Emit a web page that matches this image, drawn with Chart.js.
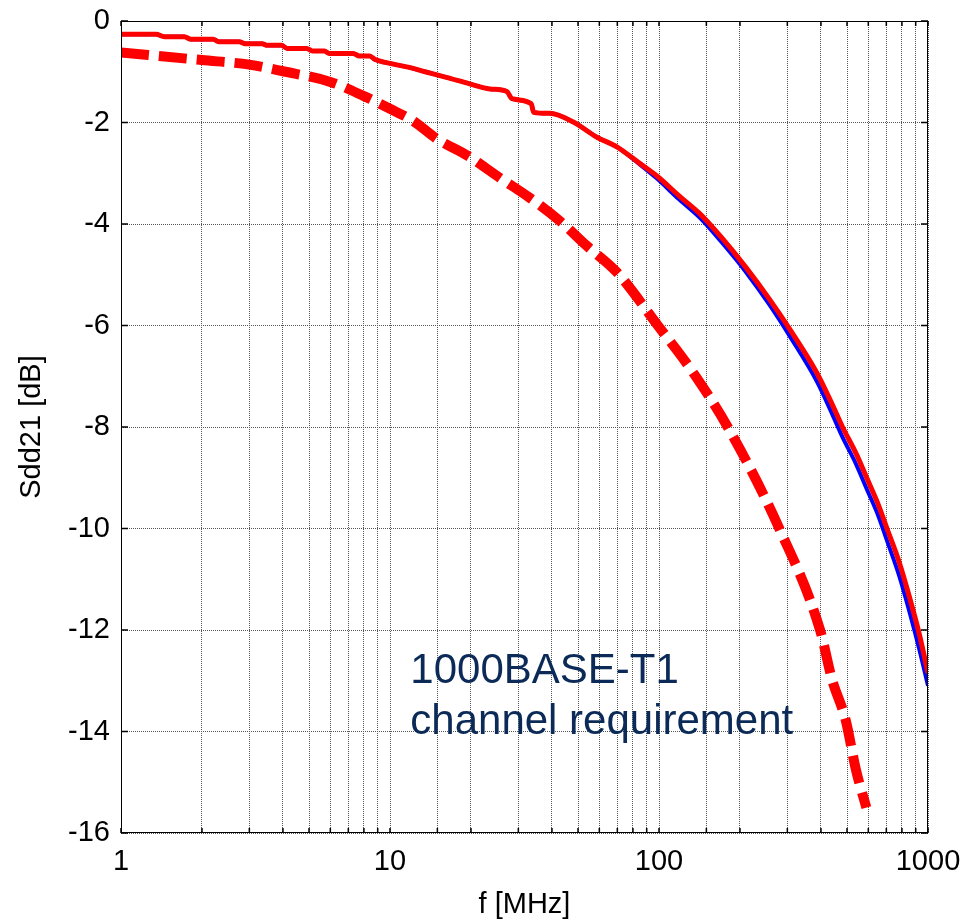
<!DOCTYPE html>
<html>
<head>
<meta charset="utf-8">
<title>Sdd21</title>
<script src="https://cdn.jsdelivr.net/npm/chart.js@4.4.0/dist/chart.umd.min.js"></script>
<style>
  html, body { margin: 0; padding: 0; background: #fff; }
  canvas { display: block; }
</style>
</head>
<body>
<canvas id="sddChart" width="963" height="920"></canvas>
<script>
// measured channel, frequency in MHz
const freqMeas = [1, 1.35, 1.45, 1.72, 1.82, 2.2, 2.32, 2.75, 2.9, 3.35,
  3.5, 3.95, 4.15, 4.9, 5.15, 5.7, 5.95, 7.3, 7.7, 8.4,
  8.8, 9.7, 11.9, 13.5, 16.2, 19.8, 23.5, 27.2, 28.4, 33.5,
  34.2, 39.2, 48, 58.8, 69.7, 85, 98, 119, 142, 171,
  210, 258, 307, 386, 440, 481, 540, 594, 650, 704,
  780, 855, 930, 1000];
const sddRed = [-0.26, -0.26, -0.31, -0.31, -0.36, -0.36, -0.41, -0.41, -0.45, -0.45,
  -0.48, -0.48, -0.54, -0.54, -0.59, -0.59, -0.64, -0.64, -0.69, -0.69,
  -0.76, -0.82, -0.92, -1.00, -1.11, -1.24, -1.34, -1.39, -1.53, -1.63,
  -1.80, -1.82, -1.99, -2.29, -2.48, -2.81, -3.05, -3.45, -3.80, -4.27,
  -4.85, -5.49, -6.08, -6.93, -7.55, -8.00, -8.52, -9.02, -9.50, -10.0,
  -10.65, -11.37, -12.10, -12.85];
const sddBlue = [-0.26, -0.26, -0.31, -0.31, -0.36, -0.36, -0.41, -0.41, -0.45, -0.45,
  -0.48, -0.48, -0.54, -0.54, -0.59, -0.59, -0.64, -0.64, -0.69, -0.69,
  -0.76, -0.82, -0.92, -1.00, -1.11, -1.24, -1.34, -1.39, -1.53, -1.63,
  -1.80, -1.82, -1.99, -2.29, -2.48, -2.83, -3.10, -3.52, -3.88, -4.36,
  -4.94, -5.60, -6.22, -7.10, -7.74, -8.20, -8.73, -9.24, -9.72, -10.24,
  -10.92, -11.66, -12.40, -13.10];

// 1000BASE-T1 channel limit
const freqLimit = [1, 2, 3, 4, 6, 8, 10, 12.2, 14.9, 19.5,
  25.6, 33, 42.8, 53.9, 69.7, 99, 130, 180, 280, 397,
  440, 494, 540, 590];
const limitDb = [-0.62, -0.77, -0.86, -0.99, -1.20, -1.48, -1.73, -1.97, -2.32, -2.66,
  -3.09, -3.48, -3.94, -4.43, -4.95, -6.00, -6.83, -8.00, -10.0, -12.0,
  -12.98, -13.77, -14.76, -15.5];

const xDecades = [1, 10, 100, 1000];
const noteLines = ['1000BASE-T1', 'channel requirement'];

const FONT = '"Liberation Sans", Arial, Helvetica, sans-serif';

function toPoints(xs, ys) {
  return xs.map((f, i) => ({ x: f, y: ys[i] }));
}

// box around the axes, inward tick marks, text note
const framePlugin = {
  id: 'frame',
  afterDraw(chart) {
    const { ctx, chartArea: a, scales: { x, y } } = chart;
    ctx.save();
    ctx.strokeStyle = '#000';
    ctx.lineWidth = 1;
    ctx.strokeRect(a.left + 0.5, a.top + 0.5, a.right - a.left - 1, a.bottom - a.top - 1);

    ctx.lineWidth = 1.5;
    ctx.beginPath();
    x.ticks.forEach(t => {
      const px = x.getPixelForValue(t.value);
      ctx.moveTo(px, a.bottom); ctx.lineTo(px, a.bottom - 5);
      ctx.moveTo(px, a.top); ctx.lineTo(px, a.top + 5);
    });
    y.ticks.forEach(t => {
      const py = y.getPixelForValue(t.value);
      ctx.moveTo(a.left, py); ctx.lineTo(a.left + 7, py);
      ctx.moveTo(a.right, py); ctx.lineTo(a.right - 7, py);
    });
    ctx.stroke();

    ctx.fillStyle = '#0b2a57';
    ctx.font = '42px ' + FONT;
    ctx.textAlign = 'left';
    ctx.textBaseline = 'alphabetic';
    const nx = x.getPixelForValue(11.9);
    noteLines.forEach((line, i) => {
      ctx.fillText(line, nx, y.getPixelForValue(-13.05 - i * 1.0));
    });
    ctx.restore();
  }
};

const ctx = document.getElementById('sddChart').getContext('2d');
const chart = new Chart(ctx, {
  type: 'line',
  data: {
    datasets: [
      {
        label: '1000BASE-T1 channel requirement',
        data: toPoints(freqLimit, limitDb),
        borderColor: '#ff0000',
        borderWidth: 10,
        borderDash: [28, 10],
        borderCapStyle: 'butt',
        cubicInterpolationMode: 'monotone',
        pointRadius: 0,
        fill: false,
      },
      {
        label: 'Sdd21 red',
        data: toPoints(freqMeas, sddRed),
        borderColor: '#ff0000',
        borderWidth: 5,
        pointRadius: 0,
        cubicInterpolationMode: 'monotone',
        fill: false,
      },
      {
        label: 'Sdd21 blue',
        data: toPoints(freqMeas, sddBlue),
        borderColor: '#0000ff',
        borderWidth: 4,
        pointRadius: 0,
        cubicInterpolationMode: 'monotone',
        fill: false,
      },
    ],
  },
  options: {
    responsive: false,
    animation: false,
    devicePixelRatio: 1,
    layout: { padding: { left: 0, right: 35, top: 21, bottom: 0 } },
    plugins: {
      legend: { display: false },
      tooltip: { enabled: false },
    },
    scales: {
      x: {
        type: 'logarithmic',
        min: 1,
        max: 1000,
        afterFit: (scale) => {
          scale.height = 87;
          scale.paddingLeft = 0;
          scale.paddingRight = 0;
        },
        grid: { color: '#555', lineWidth: 1, drawTicks: false },
        border: { display: false, dash: [1, 1] },
        ticks: {
          autoSkip: false,
          maxRotation: 0,
          padding: 12,
          color: '#000',
          font: { family: FONT, size: 29 },
          callback: (value) => xDecades.includes(value) ? String(value) : '',
        },
        title: {
          display: true,
          text: 'f [MHz]',
          color: '#000',
          font: { family: FONT, size: 29, lineHeight: 1 },
          padding: { top: 0, bottom: 1 },
        },
      },
      y: {
        type: 'linear',
        min: -16,
        max: 0,
        afterFit: (scale) => {
          scale.width = 121;
          scale.paddingTop = 0;
          scale.paddingBottom = 0;
        },
        grid: { color: '#555', lineWidth: 1, drawTicks: false },
        border: { display: false, dash: [1, 1] },
        ticks: {
          stepSize: 2,
          padding: 11,
          color: '#000',
          font: { family: FONT, size: 29 },
          callback: (value) => String(value),
        },
        title: {
          display: true,
          text: 'Sdd21 [dB]',
          color: '#000',
          font: { family: FONT, size: 29, lineHeight: 1 },
          padding: { top: 17, bottom: 0 },
        },
      },
    },
  },
  plugins: [framePlugin],
});
</script>
</body>
</html>
